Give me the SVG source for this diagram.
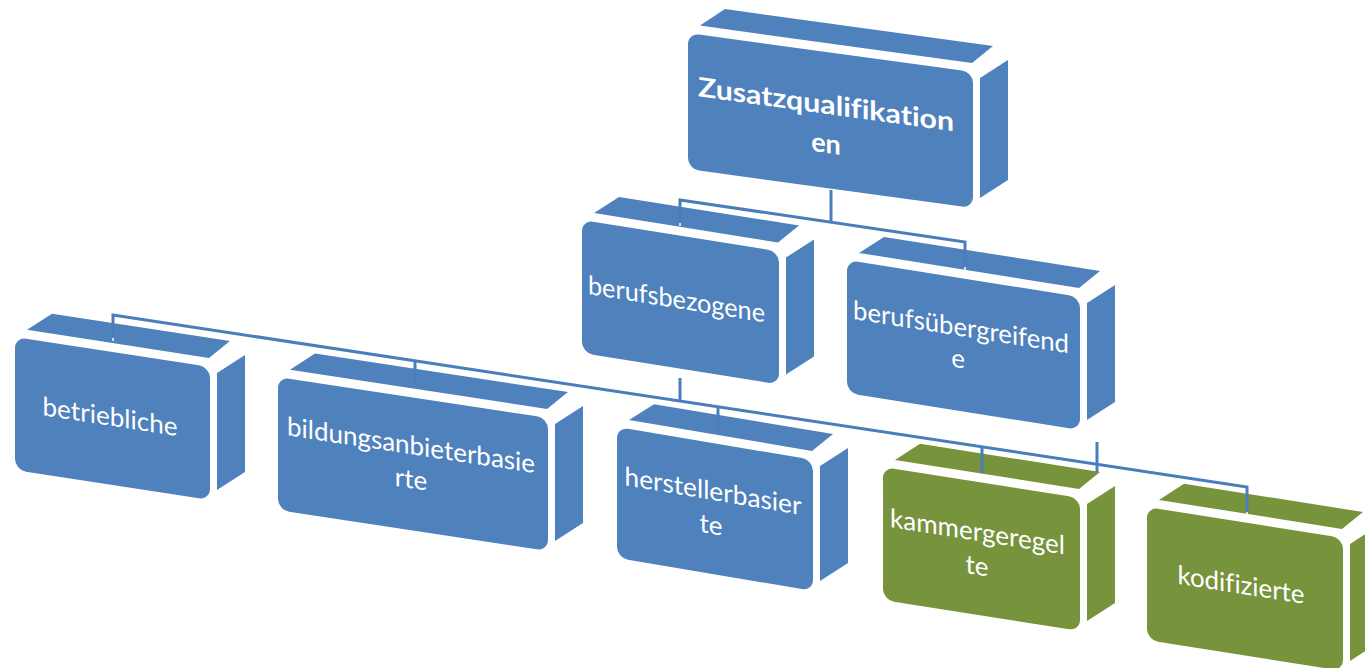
<svg xmlns="http://www.w3.org/2000/svg" xmlns:xlink="http://www.w3.org/1999/xlink" width="1365" height="668" viewBox="0 0 1365 668">
<style>
  .blue { fill: #4f81bd; }
  .green { fill: #77933c; }
  .lbl { fill: #ffffff; font-family: Lato, "Liberation Sans", sans-serif; font-size: 26px; text-anchor: middle; font-variant-ligatures: none; }
  .root { font-size: 27px; font-weight: bold; }
  .ln { fill: none; stroke: #4a7ebb; stroke-width: 3; }
  .hl { fill: none; stroke: #ffffff; stroke-width: 1.5; }
</style>
<defs>
  <path id="c1" d="M680,223 V200 L965,242 V267"/>
  <path id="c2" d="M831,190 V222"/>
  <path id="c3" d="M113,338 V315 L1247,487 V512"/>
  <path id="c4" d="M680,378 V401"/>
  <path id="c5" d="M415,361 V384"/>
  <path id="c6" d="M718,407 V431"/>
  <path id="c7" d="M982,447 V473"/>
  <path id="c8" d="M1097,442 V472"/>
</defs>
<rect width="1365" height="668" fill="#ffffff"/>

<g id="node-root" class="blue">
  <polygon points="700,25.6 972,63 993,46 725,9.1"/>
  <polygon points="980,78 1008,60 1008,180 980,198"/>
  <g transform="matrix(1 0.137 0 1 688 33)">
    <rect width="285" height="136" rx="11"/>
    <text class="lbl root" x="138" y="62" textLength="256" lengthAdjust="spacingAndGlyphs">Zusatzqualifikation</text>
    <text class="lbl root" x="138" y="101">en</text>
  </g>
</g>

<g id="node-berufsbezogene" class="blue">
  <polygon points="594,212.9 778,242.5 799,225.5 619,196.9"/>
  <polygon points="786,257.5 814,239.5 814,356.5 786,374.5"/>
  <g transform="matrix(1 0.16 0 1 582 220)">
    <rect width="197" height="133" rx="11"/>
    <text class="lbl" x="94.5" y="73" textLength="177" lengthAdjust="spacingAndGlyphs">berufsbezogene</text>
  </g>
</g>

<g id="node-berufsuebergreifende" class="blue">
  <polygon points="859,252.9 1079,288 1100,271 884,236.9"/>
  <polygon points="1087,303 1115,285 1115,402 1087,420"/>
  <g transform="matrix(1 0.159 0 1 847 260)">
    <rect width="233" height="133" rx="11"/>
    <text class="lbl" x="114" y="58" textLength="216" lengthAdjust="spacingAndGlyphs">berufsübergreifend</text>
    <text class="lbl" x="111" y="90">e</text>
  </g>
</g>

<g id="node-betriebliche" class="blue">
  <polygon points="27,329.8 209,358 230,341 52,313.7"/>
  <polygon points="217,373 245,355 245,472 217,490"/>
  <g transform="matrix(1 0.154 0 1 15 337)">
    <rect width="195" height="133" rx="11"/>
    <text class="lbl" x="95" y="74" textLength="135" lengthAdjust="spacingAndGlyphs">betriebliche</text>
  </g>
</g>

<g id="node-bildungsanbieterbasierte" class="blue">
  <polygon points="290,369.8 547,409 568,392 315,353.6"/>
  <polygon points="555,424 583,406 583,523 555,541"/>
  <g transform="matrix(1 0.152 0 1 278 377)">
    <rect width="270" height="133" rx="11"/>
    <text class="lbl" x="133" y="57" textLength="248" lengthAdjust="spacingAndGlyphs">bildungsanbieterbasie</text>
    <text class="lbl" x="133" y="91">rte</text>
  </g>
</g>

<g id="node-herstellerbasierte" class="blue">
  <polygon points="629,420 812,451 833,434 654,404.2"/>
  <polygon points="820,466 848,448 848,563 820,581"/>
  <g transform="matrix(1 0.168 0 1 617 427)">
    <rect width="196" height="131" rx="11"/>
    <text class="lbl" x="96" y="57" textLength="177" lengthAdjust="spacingAndGlyphs">herstellerbasier</text>
    <text class="lbl" x="94" y="91">te</text>
  </g>
</g>

<g id="node-kammergeregelte" class="green">
  <polygon points="895,459.9 1079,489 1100,472 920,443.8"/>
  <polygon points="1087,504 1115,486 1115,603 1087,621"/>
  <g transform="matrix(1 0.157 0 1 883 467)">
    <rect width="197" height="133" rx="11"/>
    <text class="lbl" x="94.5" y="59" textLength="175" lengthAdjust="spacingAndGlyphs">kammergeregel</text>
    <text class="lbl" x="94" y="93">te</text>
  </g>
</g>

<g id="node-kodifizierte" class="green">
  <polygon points="1159,499.9 1342,529 1363,512 1184,483.8"/>
  <polygon points="1350,544 1378,526 1378,643 1350,661"/>
  <g transform="matrix(1 0.158 0 1 1147 507)">
    <rect width="196" height="133" rx="11"/>
    <text class="lbl" x="94" y="72" textLength="127" lengthAdjust="spacingAndGlyphs">kodifizierte</text>
  </g>
</g>

<g id="connectors">
  <g class="hl" transform="translate(0,3)">
    <use xlink:href="#c1"/>
    <use xlink:href="#c3"/>
  </g>
  <g class="ln">
    <use xlink:href="#c1"/>
    <use xlink:href="#c2"/>
    <use xlink:href="#c3"/>
    <use xlink:href="#c4"/>
    <use xlink:href="#c5"/>
    <use xlink:href="#c6"/>
    <use xlink:href="#c7"/>
    <use xlink:href="#c8"/>
  </g>
</g>
</svg>
